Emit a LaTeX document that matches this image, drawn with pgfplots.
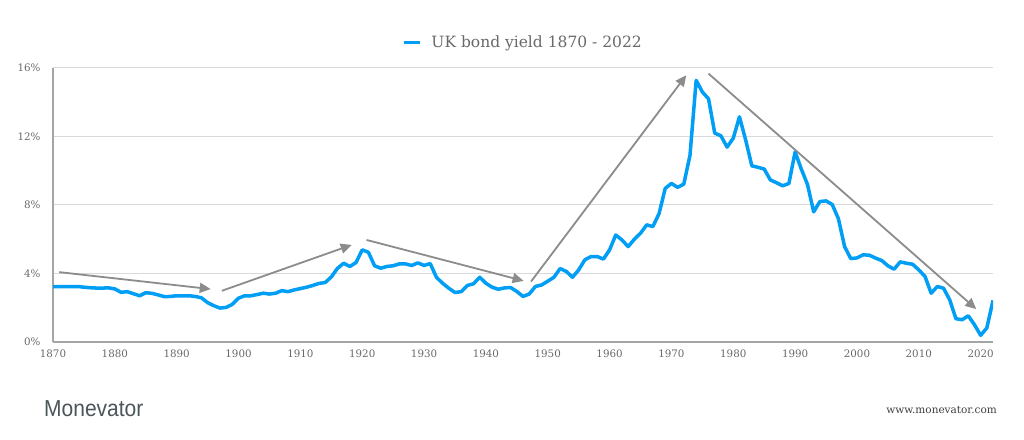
\documentclass[border=0pt]{standalone}
\usepackage{fontspec}
\setmainfont{DejaVu Serif}
\newfontfamily\logofont{Liberation Sans}
\usepackage{pgfplots}
\usepackage{pgfplotstable}
\pgfplotsset{compat=1.18}
\usetikzlibrary{arrows.meta}
\definecolor{ukblue}{RGB}{0,158,245}
\definecolor{gridgrey}{RGB}{217,217,217}
\definecolor{axisgrey}{RGB}{165,165,165}
\definecolor{textgrey}{RGB}{105,105,105}
\definecolor{arrowgrey}{RGB}{140,140,140}
\definecolor{logogrey}{RGB}{75,85,90}

\pgfplotstableread{
year yield
1870 3.24
1871 3.24
1872 3.24
1873 3.24
1874 3.24
1875 3.20
1876 3.17
1877 3.15
1878 3.15
1879 3.16
1880 3.10
1881 2.90
1882 2.94
1883 2.82
1884 2.70
1885 2.88
1886 2.84
1887 2.75
1888 2.65
1889 2.66
1890 2.70
1891 2.70
1892 2.70
1893 2.66
1894 2.58
1895 2.30
1896 2.12
1897 1.98
1898 2.02
1899 2.20
1900 2.56
1901 2.70
1902 2.70
1903 2.77
1904 2.85
1905 2.80
1906 2.85
1907 3.00
1908 2.94
1909 3.04
1910 3.12
1911 3.20
1912 3.30
1913 3.42
1914 3.47
1915 3.80
1916 4.30
1917 4.60
1918 4.41
1919 4.64
1920 5.38
1921 5.24
1922 4.45
1923 4.31
1924 4.41
1925 4.45
1926 4.56
1927 4.56
1928 4.47
1929 4.62
1930 4.47
1931 4.58
1932 3.78
1933 3.43
1934 3.14
1935 2.89
1936 2.94
1937 3.30
1938 3.40
1939 3.78
1940 3.43
1941 3.20
1942 3.08
1943 3.16
1944 3.18
1945 2.95
1946 2.66
1947 2.80
1948 3.24
1949 3.33
1950 3.55
1951 3.78
1952 4.29
1953 4.12
1954 3.78
1955 4.21
1956 4.80
1957 4.99
1958 4.99
1959 4.84
1960 5.38
1961 6.25
1962 5.96
1963 5.57
1964 6.00
1965 6.35
1966 6.84
1967 6.74
1968 7.50
1969 8.97
1970 9.26
1971 9.03
1972 9.22
1973 10.90
1974 15.28
1975 14.60
1976 14.20
1977 12.20
1978 12.04
1979 11.38
1980 11.90
1981 13.15
1982 11.80
1983 10.29
1984 10.20
1985 10.10
1986 9.46
1987 9.30
1988 9.12
1989 9.26
1990 11.10
1991 10.10
1992 9.20
1993 7.60
1994 8.20
1995 8.24
1996 8.03
1997 7.20
1998 5.57
1999 4.87
2000 4.91
2001 5.09
2002 5.07
2003 4.90
2004 4.76
2005 4.45
2006 4.25
2007 4.68
2008 4.60
2009 4.54
2010 4.21
2011 3.83
2012 2.85
2013 3.24
2014 3.14
2015 2.46
2016 1.36
2017 1.30
2018 1.53
2019 1.01
2020 0.39
2021 0.82
2022 2.43
}\ukdata

\begin{document}
\begin{tikzpicture}
\path[use as bounding box, fill=white] (0pt,0pt) rectangle (1024pt,439pt);
\begin{axis}[
  at={(53pt,97pt)}, anchor=south west,
  scale only axis, width=940pt, height=274pt,
  xmin=1870, xmax=2022, ymin=0, ymax=16,
  axis lines=left,
  axis line style={-, draw=axisgrey, line width=1.2pt},
  ytick={0,4,8,12,16},
  xtick={1870,1880,...,2020},
  ymajorgrids,
  grid style={gridgrey, line width=1pt},
  major tick length=0pt,
  tick label style={font=\fontsize{10.3}{12}\selectfont, text=textgrey},
  /pgf/number format/assume math mode=true,
  /pgf/number format/1000 sep={},
  yticklabel={\pgfmathprintnumber{\tick}\%},
  yticklabel style={xshift=-9pt},
  xticklabel style={yshift=-4pt},
  legend style={at={(0.5,1)}, anchor=south, yshift=15pt, draw=none,
    font=\fontsize{15.5}{18}\selectfont, text=textgrey},
  legend image code/.code={\draw[ukblue, line width=3pt] (0pt,0pt) -- (16pt,0pt); \path (24pt,0pt);},
]
\addplot[ukblue, line width=3.5pt, line join=round] table[x=year, y=yield] {\ukdata};
\addlegendentry{UK bond yield 1870 - 2022}
\draw[arrowgrey, line width=1.8pt, -{Triangle[length=11pt,width=10pt]}] (axis cs:1871.0,4.08) -- (axis cs:1895.5,3.09);
\draw[arrowgrey, line width=1.8pt, -{Triangle[length=11pt,width=10pt]}] (axis cs:1897.3,2.99) -- (axis cs:1918.3,5.67);
\draw[arrowgrey, line width=1.8pt, -{Triangle[length=11pt,width=10pt]}] (axis cs:1920.7,5.96) -- (axis cs:1946.1,3.57);
\draw[arrowgrey, line width=1.8pt, -{Triangle[length=11pt,width=10pt]}] (axis cs:1947.3,3.53) -- (axis cs:1972.4,15.58);
\draw[arrowgrey, line width=1.8pt, -{Triangle[length=11pt,width=10pt]}] (axis cs:1976.0,15.67) -- (axis cs:2019.3,1.92);
\end{axis}
\node[anchor=base west, font=\logofont\fontsize{21}{24}\selectfont, text=logogrey, inner sep=0pt, yscale=1.1] at (44pt,23pt) {Monevator};
\node[anchor=base east, font=\fontsize{10.5}{12}\selectfont, text=black!75, inner sep=0pt] at (997pt,26pt) {www.monevator.com};
\end{tikzpicture}
\end{document}
